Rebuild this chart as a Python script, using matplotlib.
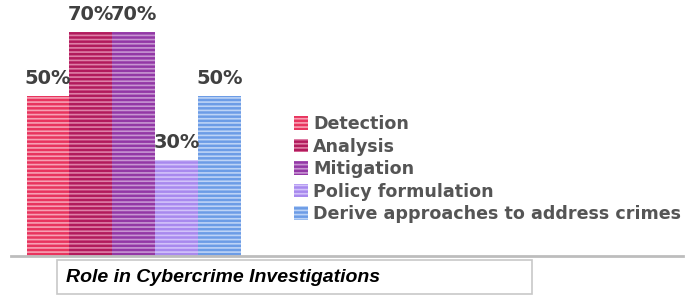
import matplotlib
matplotlib.use("Agg")
import matplotlib.pyplot as plt
from matplotlib.patches import Rectangle, Patch

categories = ["Detection", "Analysis", "Mitigation", "Policy formulation",
              "Derive approaches to address crimes"]
values = [50, 70, 70, 30, 50]
labels = ["50%", "70%", "70%", "30%", "50%"]
colors = ["#e8345e", "#b21a5c", "#9338a6", "#a889ee", "#6c9ce6"]
stripes = ["#f7a0b4", "#de7fa6", "#c795d2", "#d2c2fa", "#bcd3f6"]
title = "Role in Cybercrime Investigations"

plt.rcParams['hatch.linewidth'] = 1.2

W, H = 694, 295
fig = plt.figure(figsize=(W/100, H/100), dpi=100)
ax = fig.add_axes([11/W, (H-256)/H, 672/W, 256/H])

unit = 42.8
x0 = 48
for i, (v, c, s) in enumerate(zip(values, colors, stripes)):
    ax.bar(i, v, width=1.0, color=c, edgecolor=s, hatch="----", linewidth=0)
    ax.text(i, v + 2.4, labels[i], ha="center", va="bottom",
            fontsize=14, fontweight="bold", color="#404040",
            family="DejaVu Sans")

ax.set_xlim(-(x0-11)/unit, (683-x0)/unit)
ax.set_ylim(0, 80)
for sp in ["top", "right", "left"]:
    ax.spines[sp].set_visible(False)
ax.spines["bottom"].set_color("#bdbdbd")
ax.spines["bottom"].set_linewidth(2)
ax.set_xticks([])
ax.set_yticks([])

handles = [Patch(facecolor=c, edgecolor=s, hatch="----", linewidth=0)
           for c, s in zip(colors, stripes)]
leg = fig.legend(handles, categories, loc="upper left",
                 bbox_to_anchor=(294/W, 1-115/H), frameon=False,
                 prop={"family": "DejaVu Sans", "weight": "bold", "size": 12.6},
                 labelcolor="#555555", handlelength=0.8, handleheight=0.8,
                 handletextpad=0.3, labelspacing=0.26, borderpad=0, borderaxespad=0)

fig.patches.append(Rectangle((57/W, (H-294)/H), (532-57)/W, 34/H,
                             transform=fig.transFigure, facecolor="white",
                             edgecolor="#c8c8c8", linewidth=1.2))
fig.text(66/W, (H-277)/H, title, ha="left", va="center", fontsize=14,
         fontweight="bold", fontstyle="italic", color="black",
         family="Liberation Sans")

fig.savefig("out.png", dpi=100)
